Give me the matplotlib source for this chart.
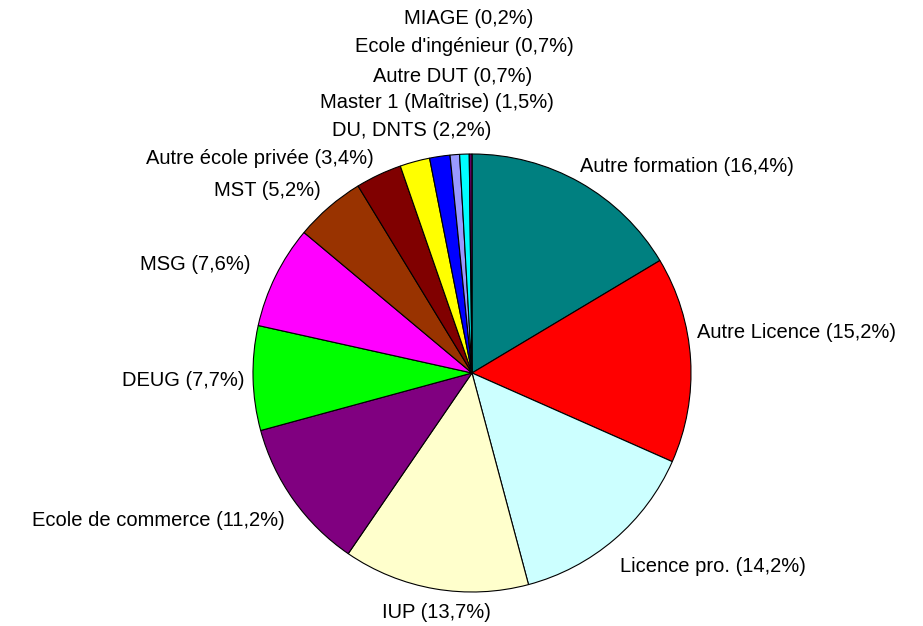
#!/usr/bin/env python3

import matplotlib
matplotlib.use('Agg')
import matplotlib.pyplot as plt

categories = ["Autre formation", "Autre Licence", "Licence pro.", "IUP",
              "Ecole de commerce", "DEUG", "MSG", "MST",
              "Autre école privée", "DU, DNTS", "Master 1 (Maîtrise)",
              "Autre DUT", "Ecole d'ingénieur", "MIAGE"]
values = [16.4, 15.2, 14.2, 13.7, 11.2, 7.7, 7.6, 5.2, 3.4, 2.2, 1.5, 0.7, 0.7, 0.2]
colours = ["#008080", "#FF0000", "#CCFFFF", "#FFFFCC", "#800080", "#00FF00",
           "#FF00FF", "#993300", "#800000", "#FFFF00", "#0000FF", "#9999FF",
           "#00FFFF", "#660066"]

# label anchor in pixels (x, y from top, alignment)
label_pos = [(580, 166, 'left'), (697, 333, 'left'), (620, 566, 'left'),
             (436, 612, 'center'), (285, 520, 'right'), (245, 381, 'right'),
             (251, 264, 'right'), (321, 190, 'right'), (374, 158, 'right'),
             (412, 130, 'center'), (437, 103, 'center'), (453, 76, 'center'),
             (464, 47, 'center'), (469, 19, 'center')]

W, H = 923, 626
fig = plt.figure(figsize=(W / 100, H / 100), dpi=100)
ax = fig.add_axes([0, 0, 1, 1])

ax.pie(values, colors=colours, startangle=90, counterclock=False,
       center=(472, H - 373), radius=219, frame=True,
       wedgeprops=dict(edgecolor='black', linewidth=0.8))
ax.set_xlim(0, W)
ax.set_ylim(0, H)
ax.set_aspect('equal')
ax.axis('off')

for name, v, (x, y, ha) in zip(categories, values, label_pos):
    txt = name + " (" + ("%.1f" % v).replace('.', ',') + "%)"
    ax.text(x, H - y, txt, ha=ha, va='center', fontsize=14.5,
            family='Liberation Sans', color='black')

fig.savefig('out.png', dpi=100, facecolor='white')
